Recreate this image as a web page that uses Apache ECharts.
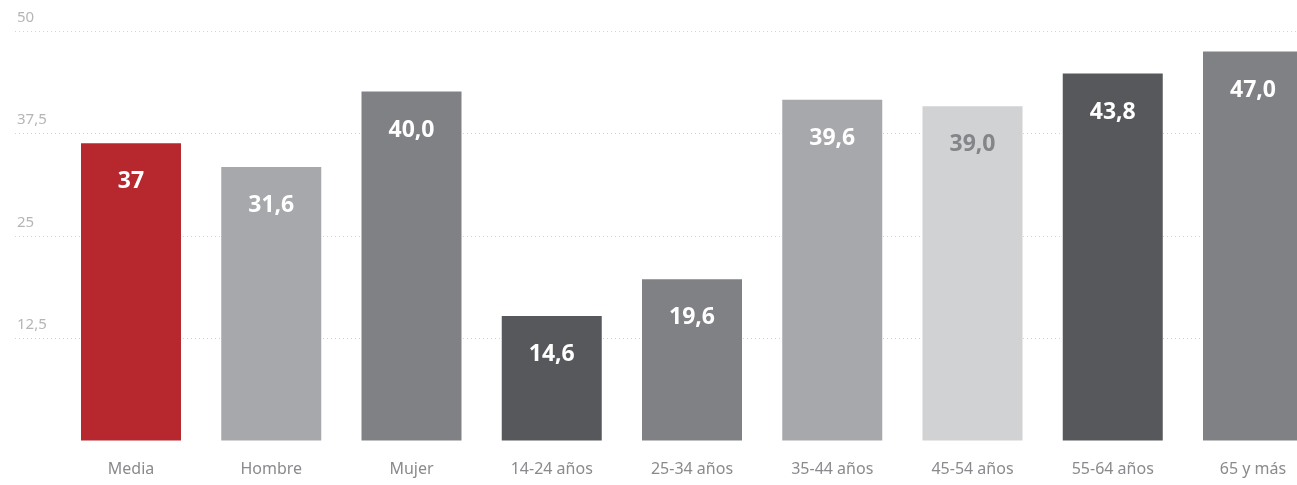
<!DOCTYPE html>
<html>
<head>
<meta charset="utf-8">
<script src="https://cdn.jsdelivr.net/npm/echarts@6/dist/echarts.min.js"></script>
<style>
  html, body { margin: 0; padding: 0; background: #fff; }
  #chart { width: 1297px; height: 485px; }
</style>
</head>
<body>
<div id="chart"></div>
<script>
const categories = ['Media', 'Hombre', 'Mujer', '14-24 años', '25-34 años', '35-44 años', '45-54 años', '55-64 años', '65 y más'];
// bar heights as drawn in the picture
const values = [36.3, 33.4, 42.6, 15.2, 19.7, 41.6, 40.8, 44.8, 47.5];
// printed labels
const valueLabels = ['37', '31,6', '40,0', '14,6', '19,6', '39,6', '39,0', '43,8', '47,0'];
const barColors = ['#b7272e', '#a7a8ac', '#808185', '#57585b', '#808185', '#a7a8ac', '#d1d2d4', '#57585b', '#808185'];
const labelColors = ['#fff', '#fff', '#fff', '#fff', '#fff', '#fff', '#848589', '#fff', '#fff'];

const chart = echarts.init(document.getElementById('chart'));

const option = {
  animation: false,
  textStyle: { fontFamily: 'Noto Sans' },
  grid: [
    { left: 15, right: 0, top: 31, bottom: 44.5 },
    { left: 131, right: 44, top: 31, bottom: 44.5 }
  ],
  xAxis: [
    { type: 'category', gridIndex: 0, data: [''], show: false },
    {
      type: 'category',
      gridIndex: 1,
      data: categories,
      boundaryGap: false,
      axisLine: { show: false },
      axisTick: { show: false },
      axisLabel: { color: '#8a8a8e', fontSize: 16, margin: 21 }
    }
  ],
  yAxis: [
    {
      type: 'value',
      gridIndex: 0,
      min: 0,
      max: 50,
      interval: 12.5,
      axisLine: { show: false },
      axisTick: { show: false },
      splitLine: { showMinLine: false, lineStyle: { color: '#d4d4d4', type: [1, 3], width: 1 } },
      axisLabel: {
        inside: true,
        margin: 2,
        verticalAlign: 'bottom',
        padding: [0, 0, 6, 0],
        color: '#b5b5b7',
        fontSize: 15,
        formatter: v => v === 0 ? '' : String(v).replace('.', ',')
      }
    },
    { type: 'value', gridIndex: 1, min: 0, max: 50, show: false }
  ],
  series: [
    {
      type: 'bar',
      xAxisIndex: 1,
      yAxisIndex: 1,
      barWidth: 100,
      clip: false,
      data: values.map((v, i) => ({
        value: v,
        itemStyle: { color: barColors[i] },
        label: { color: labelColors[i] }
      })),
      label: {
        show: true,
        position: 'insideTop',
        distance: 27,
        fontSize: 23,
        fontWeight: 'bold',
        formatter: p => valueLabels[p.dataIndex]
      }
    }
  ]
};

chart.setOption(option);
</script>
</body>
</html>
